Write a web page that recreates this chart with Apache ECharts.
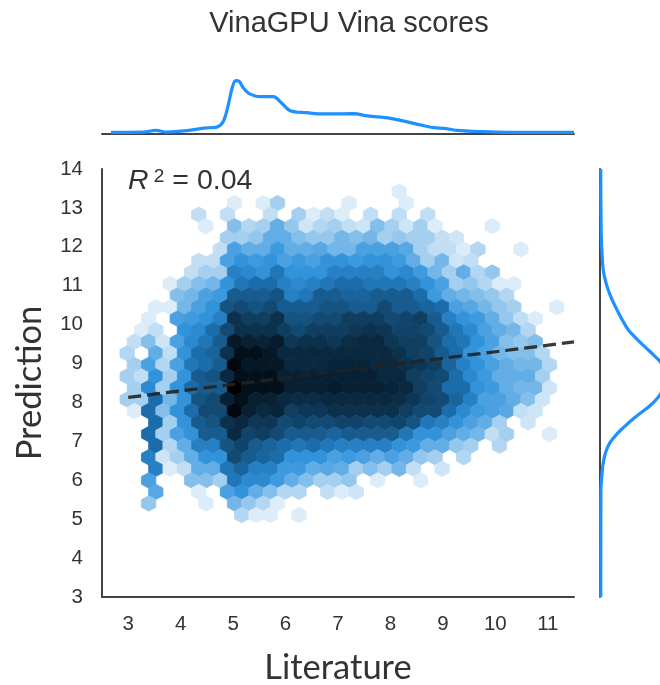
<!DOCTYPE html>
<html>
<head>
<meta charset="utf-8">
<style>html,body{margin:0;padding:0;background:#fff}#c{width:660px;height:685px}</style>
<script src="https://cdn.jsdelivr.net/npm/echarts@6/dist/echarts.min.js"></script>
</head>
<body>
<div id="c"></div>
<script>
const xTicks = [3,4,5,6,7,8,9,10,11];
const yTicks = [3,4,5,6,7,8,9,10,11,12,13,14];

// hexbin layout: first bin of each row is hexFirstColumn[row]; bins step by 2 half-columns
const hexColumnOrigin = 2.98, hexHalfColumn = 0.1365, hexTopRow = 13.42, hexRowStep = 0.2969;
const hexFirstColumn = [38,15,10,11,14,13,10,9,6,7,4,3,2,1,0,1,0,1,0,1,4,3,4,3,4,3,4,3,16];
const hexDensity = [
 [1],
 [1,0,1,3,0,0,0,0,1,0,0,0,1],
 [2,0,2,0,0,2,0,3,1,2,1,0,2,0,2,0,2],
 [1,0,4,2.5,3,5,3.5,1.5,2.5,3,2,1.5,4,3,1.5,3,1,0,0,0,1],
 [3,3,3.5,5,5,4,3.5,3.5,4.5,4,4.5,3,3.5,3,3,2,1.5],
 [2,6,5,5,6.5,5,5,5.5,4.5,4.5,6,6,6,5.5,3,2,2,1,2.5,0,0,1],
 [2,2,6,7,6.5,7,6,6.5,6,7,7,6.5,7,7,6.5,5,3,4.5,1.5,2],
 [2,3,3,8,7.5,7,8.5,7,7,7,8,8,8,8,7,7.5,6.5,4.5,3,5,2.5,3.5],
 [1,3,4,4.5,7,8.5,9,9,8,7.5,8,8.5,9,9,8.5,8.5,8.5,8,7,6,3,3.5,2.5,1,1],
 [4,4.5,6,6.5,10,10,10,10.5,8,8.5,10,10,9.5,9.5,10,10,10,9,6.5,5,4.5,4,3.5,2.5],
 [1,1,4.5,6,7,10.5,11,10.5,11,10,10,10,10.5,10.5,10,10,11,10,10,9.5,9,6,5.5,4.5,3.5,3,0,0,1],
 [1,0,6,6.5,7,8,13,12,12,13,10.5,10.5,11,11,12,12,12,11,11.5,12,10,8,7,6.5,5,3.5,2,1],
 [1,2,0,7,7.5,9,11,13,13,13,12,11,12,12,12,12.5,13,12.5,11.5,11.5,11,10,8.5,7.5,6,5,4.5,2.5],
 [2,4,1.5,6,7.5,8.5,10,16,15,14.5,15.5,12.5,13,13,12.5,13.5,14,14,12.5,12,12,10.5,9,8.5,7,6,4,3.5,4],
 [2.5,0,5,2,7,9,9.5,13,17,17,16,14,14,14,14,14,14,14,14,13,12,11.5,10,9,7,6,4.5,4,4,2.5],
 [3,6,2.5,6,8.5,9,10,18,16,16,16,14,14,14,14.5,14.5,14.5,14,14,13,12.5,12,9.5,8,7,6,5,4.5,4.5,2.5],
 [3,2,7,3,7,10,10.5,14,17,17,17,15,15,15,15,15,15,15,14,14,12,11.5,11,9,7.5,6.5,5,5,5,3],
 [3,7.5,3,7,9,10,10,19,17,17,17,15,15,15,15.5,15,15,15,14.5,14,12,11,9,9,7,6.5,5,4.5,4.5,1.5],
 [3,3,9,4.5,7,10.5,11,15,17,15,15,14,13.5,13.5,14,14,14,14,14,13.5,12.5,11.5,11,9.5,8,6,6,5,4,1.5],
 [1,9,4,7,9,11,11,18,15,14,14.5,12,12.5,12.5,13,13,13,13,13,12,11,11,9,7.5,6.5,6,5.5,2,1.5],
 [9,3,7,10,10.5,13,14,12.5,12.5,11,11.5,11,11,11.5,11.5,11,11,11.5,10.5,8.5,8,7,6,5,3,0,1.5],
 [9,3,6,7,10,10,14,11.5,12,11,10,10,10,9.5,10,10,10,10,8.5,7,7,6,5,4.5,2,3,0,0,1],
 [9,2.5,5,8,8,10.5,11.5,10,9.5,9,8.5,9,8.5,8,8,8,8,7,6.5,5,5,3.5,3,0,2.5],
 [8,1.5,3,5,7,7,11,10,9.5,9,7,7,7,6,6.5,6,5,6,5,3.5,3,0,2.5],
 [8,1,2,5,5,8.5,9.5,8,8,6.5,6.5,5,5.5,5,3,4,3,4.5,2,0,1.5],
 [6,0,0,4,4,3,8.5,7.5,7.5,6.5,5,4,3,3,3.5,0,1,0,0,1],
 [5.5,0,0,1,0,6,7,5,4,2.5,2.5,0,2,1,1.5],
 [3.5,0,0,0,1,0,4.5,3.5,2.5,1],
 [2.5,1,1,0,1]
];
const densityColors = ['#dcecf9','#a5cfef','#63ade6','#3293db','#1b6cab','#134a73','#0c314d','#072033','#03101a','#000000'];

const regressionX = [3, 11.5];
const regressionY = [8.13, 9.555];

const topKdeX = [2.67,3.29,3.52,3.74,4.12,4.44,4.69,4.81,4.90,4.98,5.05,5.12,5.20,5.30,5.52,5.77,5.90,6.09,6.41,6.73,7.30,7.56,8.00,8.64,8.83,9.02,9.27,9.78,10.23,11.5];
const topKdeD = [.011,.013,.027,.013,.024,.045,.053,.096,.216,.363,.424,.416,.363,.323,.296,.296,.256,.184,.168,.158,.160,.142,.123,.064,.048,.043,.027,.016,.011,.010];
const rightKdeY = [14,12.52,11.66,11.24,10.81,10.38,9.95,9.78,9.44,9.18,9.01,8.62,8.24,7.98,7.64,7.38,7.12,6.86,6.52,6.09,5.67,3];
const rightKdeD = [.010,.013,.023,.039,.079,.14,.213,.253,.36,.445,.493,.55,.493,.426,.293,.20,.12,.066,.034,.018,.011,.010];

const hexData = [];
hexDensity.forEach((row, r) => row.forEach((v, i) => {
  if (v > 0) hexData.push([hexColumnOrigin + (hexFirstColumn[r] + 2*i)*hexHalfColumn, hexTopRow - r*hexRowStep, v]);
}));

const axisColor = '#444444', textColor = '#333333', kdeColor = '#1e90ff';
const chart = echarts.init(document.getElementById('c'), null, {renderer:'canvas'});
chart.setOption({
  animation:false,
  backgroundColor:'#ffffff',
  title:{text:'VinaGPU Vina scores',left:344,top:4,textAlign:'center',
    textStyle:{fontFamily:'Liberation Sans',fontSize:29,fontWeight:'normal',color:textColor}},
  grid:[
    {left:102,top:169,width:472,height:428,outerBoundsMode:'none'},
    {left:102,top:73.7,width:472,height:60,outerBoundsMode:'none'},
    {left:599.5,top:169,width:100,height:428,outerBoundsMode:'none'}
  ],
  xAxis:[
    {gridIndex:0,type:'value',min:2.5,max:11.5,splitLine:{show:false},
     axisLine:{show:true,onZero:false,lineStyle:{color:axisColor,width:2}},
     axisTick:{show:false},
     axisLabel:{customValues:xTicks,margin:17,fontFamily:'Liberation Sans',fontSize:20.5,color:textColor},
     name:'Literature',nameLocation:'middle',nameGap:53,
     nameTextStyle:{fontFamily:'Lato',fontSize:34.5,color:textColor}},
    {gridIndex:1,type:'value',min:2.5,max:11.5,splitLine:{show:false},axisTick:{show:false},axisLabel:{show:false},
     axisLine:{show:true,onZero:false,lineStyle:{color:axisColor,width:2}}},
    {gridIndex:2,type:'value',min:0,max:0.8,show:false}
  ],
  yAxis:[
    {gridIndex:0,type:'value',min:3,max:14,interval:1,splitLine:{show:false},
     axisLine:{show:true,onZero:false,lineStyle:{color:axisColor,width:2}},
     axisTick:{show:false},
     axisLabel:{customValues:yTicks,margin:19,fontFamily:'Liberation Sans',fontSize:20.5,color:textColor},
     name:'Prediction',nameLocation:'middle',nameGap:55,
     nameTextStyle:{fontFamily:'Lato',fontSize:34.5,color:textColor}},
    {gridIndex:1,type:'value',min:0,max:0.48,show:false},
    {gridIndex:2,type:'value',min:3,max:14,splitLine:{show:false},axisTick:{show:false},axisLabel:{show:false},
     axisLine:{show:true,onZero:false,lineStyle:{color:axisColor,width:2}}}
  ],
  visualMap:{show:false,seriesIndex:0,dimension:2,min:1,max:19,inRange:{color:densityColors}},
  graphic:[{type:'text',left:128,top:167,z:100,style:{
    rich:{r:{fontFamily:'Liberation Sans',fontStyle:'italic',fontSize:28.5,fill:textColor},
          s:{fontFamily:'Liberation Sans',fontSize:19,fill:textColor,verticalAlign:'top',padding:[0,0,10,0]},
          t:{fontFamily:'Liberation Sans',fontSize:28.5,fill:textColor}},
    text:'{r|R}{s| 2}{t| = 0.04}'}}],
  series:[
    {type:'custom',coordinateSystem:'cartesian2d',xAxisIndex:0,yAxisIndex:0,data:hexData,
     encode:{x:0,y:1},silent:true,z:2,
     renderItem:function(params,api){
       const c = api.coord([api.value(0),api.value(1)]);
       const s = api.size([2*hexHalfColumn,hexRowStep]);
       const w = s[0]/2, R = s[1]*2/3, col = api.visual('color');
       return {type:'polygon',shape:{points:[[c[0],c[1]-R],[c[0]+w,c[1]-R/2],[c[0]+w,c[1]+R/2],[c[0],c[1]+R],[c[0]-w,c[1]+R/2],[c[0]-w,c[1]-R/2]]},
         style:{fill:col,stroke:col,lineWidth:0.8}};
     }},
    {type:'line',xAxisIndex:0,yAxisIndex:0,data:regressionX.map((x,i)=>[x,regressionY[i]]),showSymbol:false,silent:true,z:5,
     lineStyle:{color:'#222222',opacity:0.9,width:3.2,type:[13,6]}},
    {type:'line',xAxisIndex:1,yAxisIndex:1,data:topKdeX.map((x,i)=>[x,topKdeD[i]]),showSymbol:false,silent:true,smooth:0.35,z:5,
     lineStyle:{color:kdeColor,width:3.2}},
    {type:'line',xAxisIndex:2,yAxisIndex:2,data:rightKdeY.map((y,i)=>[rightKdeD[i],y]),showSymbol:false,silent:true,smooth:0.5,z:5,
     lineStyle:{color:kdeColor,width:3.2}}
  ]
});
</script>
</body>
</html>
